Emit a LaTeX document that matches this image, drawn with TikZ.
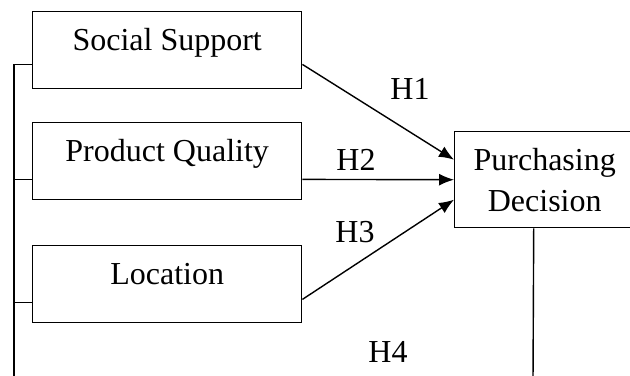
\documentclass[tikz,border=0pt]{standalone}
\usepackage{fontspec}
\setmainfont{Liberation Serif}
\usetikzlibrary{arrows.meta}

\tikzset{
  varbox/.style={draw, line width=0.7pt, rectangle, anchor=north west, inner xsep=0pt, inner ysep=0pt,
    minimum width=134.5pt, text height=19.5pt, text depth=19pt},
  hyparrow/.style={line width=0.7pt, -{Latex[length=7.5pt,width=6pt]}},
  link/.style={line width=0.7pt}
}

\begin{document}
\begin{tikzpicture}[x=0.5pt, y=-0.5pt, font=\fontsize{16pt}{20.5pt}\selectfont]

    % Fix the picture size (the right box runs off the edge)
    \useasboundingbox (0,0) rectangle (630,375);
    \clip (0,0) rectangle (630,375);

    % The three independent variables
    \node[varbox] (ss) at (32,11) {Social Support};
    \node[varbox] (pq) at (32,122) {Product Quality};
    \node[varbox] (lc) at (32,245) {Location};

    % The dependent variable
    \node[draw, line width=0.7pt, anchor=north west, inner sep=0pt, minimum width=90pt, minimum height=48pt, align=center] (pd) at (454,131) {Purchasing\\Decision};

    % Points where the lines leave the boxes
    \coordinate (ssout) at ([yshift=12.5pt]ss.south east);
    \coordinate (pqout) at ([yshift=10.5pt]pq.south east);
    \coordinate (lcout) at ([yshift=12pt]lc.south east);
    \coordinate (ssin) at ([yshift=12.5pt]ss.south west);
    \coordinate (pqin) at ([yshift=10.5pt]pq.south west);
    \coordinate (lcin) at ([yshift=10.5pt]lc.south west);
    \coordinate (busend) at (14,380);
    \coordinate (pdend) at (533,380);

    % Hypothesis arrows H1--H3
    \draw[hyparrow] (ssout) -- ([yshift=10pt]pd.west);
    \draw[hyparrow] (pqout) -- (pd.west);
    \draw[hyparrow] (lcout) -- ([yshift=-10pt]pd.west);

    % Line on the left joining the three boxes (H4)
    \draw[link] (ssin) -| (busend);
    \draw[link] (pqin) -- (pqin -| busend);
    \draw[link] (lcin) -- (lcin -| busend);

    % Line down from the dependent variable
    \draw[link] ([xshift=-5.5pt]pd.south) -- (pdend);

    % Labels H1--H4
    \node (h1) at (410,89) {H1};
    \node (h2) at (356,160) {H2};
    \node (h3) at (355,232) {H3};
    \node (h4) at (388,352) {H4};
\end{tikzpicture}
\end{document}
